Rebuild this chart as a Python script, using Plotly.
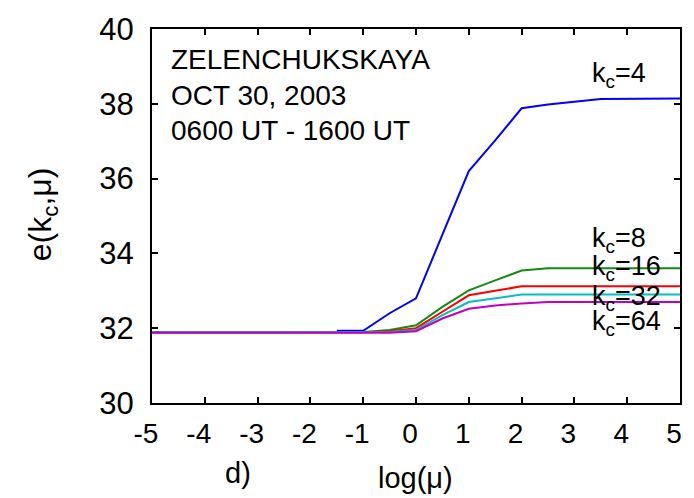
import plotly.graph_objects as go

# data
x_k4 = [-1.5, -1.0, -0.5, 0.0, 0.5, 1.0, 1.5, 2.0, 2.5, 3.0, 3.5, 5.0]
y_k4 = [31.93, 31.93, 32.4, 32.8, 34.5, 36.2, 37.02, 37.88, 37.98, 38.06, 38.13, 38.14]

x_k8 = [-5.0, -1.0, -0.5, 0.0, 0.5, 1.0, 1.5, 2.0, 2.5, 5.0]
y_k8 = [31.89, 31.9, 31.95, 32.08, 32.57, 33.01, 33.28, 33.54, 33.6, 33.6]

x_k16 = [-5.0, -1.0, -0.5, 0.0, 0.5, 1.0, 1.5, 2.0, 5.0]
y_k16 = [31.89, 31.89, 31.92, 32.0, 32.44, 32.88, 33.0, 33.12, 33.12]

x_k32 = [-5.0, -1.0, -0.5, 0.0, 0.5, 1.0, 1.5, 2.0, 5.0]
y_k32 = [31.89, 31.89, 31.9, 31.95, 32.35, 32.7, 32.8, 32.9, 32.9]

x_k64 = [-5.0, -1.0, -0.5, 0.0, 0.5, 1.0, 1.5, 2.0, 2.5, 5.0]
y_k64 = [31.88, 31.88, 31.88, 31.92, 32.26, 32.52, 32.61, 32.66, 32.7, 32.7]

series = [
    ("4", x_k4, y_k4, "#0000ff", 38.78),
    ("8", x_k8, y_k8, "#138a13", 34.37),
    ("16", x_k16, y_k16, "#ff0000", 33.62),
    ("32", x_k32, y_k32, "#00c0c0", 32.82),
    ("64", x_k64, y_k64, "#c000c0", 32.13),
]

x_ticks = [-5, -4, -3, -2, -1, 0, 1, 2, 3, 4, 5]
y_ticks = [30, 32, 34, 36, 38, 40]

FONT = "Liberation Sans"

# plot area in pixels
L, R, T, B = 152, 681, 27, 403
W, H = R - L, B - T


def px(xp):
    return (xp - L) / W


def py(yp):
    return (B - yp) / H


fig = go.Figure()
for name, xs, ys, col, ly in series:
    fig.add_trace(go.Scatter(x=xs, y=ys, mode="lines", line=dict(color=col, width=2),
                             showlegend=False, hoverinfo="skip"))

ann = []
for name, xs, ys, col, ly in series:
    ann.append(dict(x=px(591), y=ly, xref="paper", yref="y", text="k<sub>c</sub>=" + name,
                    showarrow=False, xanchor="left", yanchor="middle",
                    font=dict(family=FONT, size=27, color="black")))

for txt, yy in [("ZELENCHUKSKAYA", 58), ("OCT 30, 2003", 94), ("0600 UT - 1600 UT", 129)]:
    ann.append(dict(x=px(169), y=py(yy), xref="paper", yref="paper",
                    text=txt, showarrow=False, xanchor="left", yanchor="middle",
                    font=dict(family=FONT, size=28, color="black")))

ann.append(dict(x=px(416), y=py(478), xref="paper", yref="paper",
                text="log(μ)", showarrow=False, xanchor="center", yanchor="middle",
                font=dict(family=FONT, size=29, color="black")))
ann.append(dict(x=px(238), y=py(473), xref="paper", yref="paper",
                text="d)", showarrow=False, xanchor="center", yanchor="middle",
                font=dict(family=FONT, size=29, color="black")))
ann.append(dict(x=px(42), y=py(213), xref="paper", yref="paper",
                text="e(k<sub>c</sub>,μ)", textangle=-90, showarrow=False,
                xanchor="center", yanchor="middle",
                font=dict(family=FONT, size=32, color="black")))

axis_common = dict(showgrid=False, zeroline=False, showline=True, linecolor="black",
                   linewidth=2, mirror="ticks", ticks="inside", ticklen=6, tickwidth=1.5,
                   tickcolor="black")

fig.update_layout(
    width=694, height=498,
    margin=dict(l=L, r=694 - R, t=T, b=498 - B),
    paper_bgcolor="white", plot_bgcolor="white",
    xaxis=dict(range=[-5, 5], tickvals=x_ticks, ticktext=[str(v) for v in x_ticks],
               ticklabelstandoff=4, ticklabelshift=-6,
               tickfont=dict(family=FONT, size=28, color="black"), **axis_common),
    yaxis=dict(range=[30, 40], tickvals=y_ticks, ticktext=[str(v) for v in y_ticks],
               ticklabelstandoff=10,
               tickfont=dict(family=FONT, size=31, color="black"), **axis_common),
    annotations=ann,
)

fig.write_html("out.html")
